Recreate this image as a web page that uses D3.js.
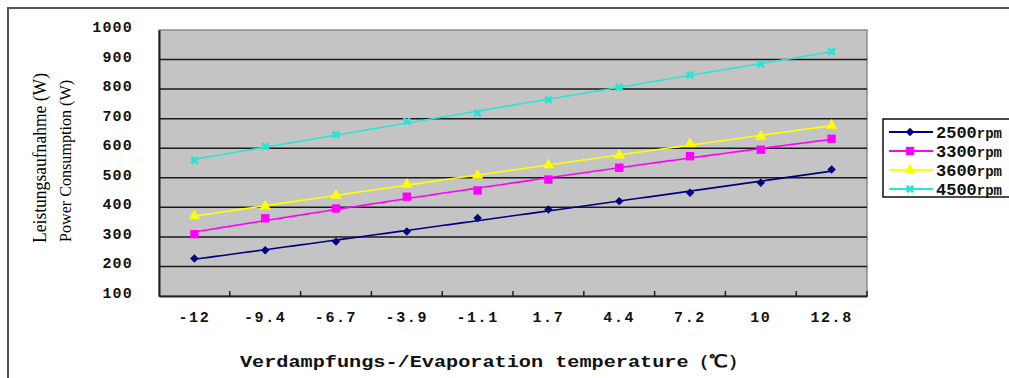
<!DOCTYPE html>
<html>
<head>
<meta charset="utf-8">
<script src="https://d3js.org/d3.v7.min.js"></script>
<style>
	html, body { margin: 0; padding: 0; background: #fff; }
	svg { display: block; }
</style>
</head>
<body>
<div id="chart"></div>
<script>
// カテゴリ（蒸発温度）
const categories = ['-12', '-9.4', '-6.7', '-3.9', '-1.1', '1.7', '4.4', '7.2', '10', '12.8'];
// Y軸の目盛り
const yTicks = [100, 200, 300, 400, 500, 600, 700, 800, 900, 1000];
// 系列名
const seriesNames = ['2500rpm', '3300rpm', '3600rpm', '4500rpm'];
// 系列の値（W）
const rpm2500 = [227, 255, 284, 318, 364, 393, 421, 449, 483, 528];
const rpm3300 = [309, 363, 396, 436, 457, 494, 534, 573, 595, 632];
const rpm3600 = [371, 404, 440, 477, 508, 543, 576, 615, 640, 677];
const rpm4500 = [559, 606, 646, 691, 719, 764, 806, 848, 885, 927];

(function() {
	const width = 1009;
	const height = 378;

	const svg = d3.select('#chart')
		.append('svg')
		.attr('width', width)
		.attr('height', height);

	// 外枠
	svg.append('path')
		.attr('d', 'M8,' + height + 'V8H' + width)
		.style('fill', 'none')
		.style('stroke', '#555')
		.style('stroke-width', 2);

	// プロット領域
	const plot = { left: 159, top: 30, right: 867, bottom: 296 };

	const x = d3.scaleBand()
		.domain(categories)
		.range([plot.left, plot.right]);

	const y = d3.scaleLinear()
		.domain([100, 1000])
		.range([plot.bottom, plot.top]);

	// 背景
	svg.append('rect')
		.attr('x', plot.left)
		.attr('y', plot.top)
		.attr('width', plot.right - plot.left)
		.attr('height', plot.bottom - plot.top)
		.style('fill', '#c4c4c4')
		.style('stroke', '#8a8a8a')
		.style('stroke-width', 1.5);

	// グリッド線
	svg.append('g')
		.selectAll('line')
		.data(yTicks.slice(1, -1))
		.enter()
		.append('line')
		.attr('x1', plot.left)
		.attr('x2', plot.right)
		.attr('y1', d => y(d))
		.attr('y2', d => y(d))
		.style('stroke', '#1a1a1a')
		.style('stroke-width', 1.5);

	// Y軸
	const yAxis = svg.append('g')
		.attr('transform', `translate(${plot.left},0)`)
		.call(d3.axisLeft(y).tickValues(yTicks).tickFormat(d3.format('d')).tickSize(0).tickPadding(26));
	yAxis.select('.domain').style('stroke', '#222').style('stroke-width', 2);
	yAxis.selectAll('text')
		.attr('dy', '0.1em')
		.style('font-family', '"Liberation Mono", monospace')
		.style('font-weight', 'bold')
		.style('font-size', '15px')
		.style('letter-spacing', '1.2px')
		.style('fill', '#111');

	// X軸（目盛りはカテゴリの境界、内向き）
	const xAxis = svg.append('g')
		.attr('transform', `translate(0,${plot.bottom})`)
		.call(d3.axisBottom(x).tickSize(0).tickPadding(15));
	xAxis.select('.domain').style('stroke', '#222').style('stroke-width', 2);
	xAxis.selectAll('text')
		.style('font-family', '"Liberation Mono", monospace')
		.style('font-weight', 'bold')
		.style('font-size', '15px')
		.style('letter-spacing', '1.6px')
		.style('fill', '#111');

	svg.append('g')
		.selectAll('line')
		.data(categories.slice(1).concat(['end']))
		.enter()
		.append('line')
		.attr('x1', (d, i) => plot.left + x.step() * (i + 1))
		.attr('x2', (d, i) => plot.left + x.step() * (i + 1))
		.attr('y1', plot.bottom)
		.attr('y2', plot.bottom - 5)
		.style('stroke', '#222')
		.style('stroke-width', 1.5);

	// 軸タイトル
	svg.append('text')
		.attr('x', 494)
		.attr('y', 367)
		.attr('text-anchor', 'middle')
		.attr('textLength', 508)
		.attr('lengthAdjust', 'spacingAndGlyphs')
		.style('font-family', '"Liberation Mono", monospace')
		.style('font-weight', 'bold')
		.style('font-size', '17px')
		.style('fill', '#111')
		.text('Verdampfungs-/Evaporation temperature（℃）');

	svg.append('text')
		.attr('transform', 'translate(46,158) rotate(-90)')
		.attr('text-anchor', 'middle')
		.attr('textLength', 170)
		.attr('lengthAdjust', 'spacingAndGlyphs')
		.style('font-family', '"Liberation Serif", serif')
		.style('font-size', '18px')
		.style('fill', '#000')
		.text('Leistungsaufnahme (W)');

	svg.append('text')
		.attr('transform', 'translate(71,161) rotate(-90)')
		.attr('text-anchor', 'middle')
		.attr('textLength', 162)
		.attr('lengthAdjust', 'spacingAndGlyphs')
		.style('font-family', '"Liberation Serif", serif')
		.style('font-size', '17px')
		.style('fill', '#000')
		.text('Power Consumption (W)');

	// 系列定義
	const series = [
		{ name: seriesNames[0], values: rpm2500, color: '#000080', symbol: d3.symbolSquare, size: 36, rotate: 45 },
		{ name: seriesNames[1], values: rpm3300, color: '#ff00ff', symbol: d3.symbolSquare, size: 70 },
		{ name: seriesNames[2], values: rpm3600, color: '#ffff00', symbol: d3.symbolTriangle, size: 55 },
		{ name: seriesNames[3], values: rpm4500, color: '#2fe3d3', symbol: d3.symbolCross, size: 45, rotate: 45 }
	];

	// 2次の近似曲線（最小二乗）
	function polyfit2(values) {
		let s = [0, 0, 0, 0, 0], t = [0, 0, 0];
		values.forEach((v, i) => {
			const xi = i + 1;
			for (let k = 0; k < 5; k++) s[k] += Math.pow(xi, k);
			for (let k = 0; k < 3; k++) t[k] += v * Math.pow(xi, k);
		});
		const m = [[s[0], s[1], s[2], t[0]], [s[1], s[2], s[3], t[1]], [s[2], s[3], s[4], t[2]]];
		for (let c = 0; c < 3; c++) {
			for (let r = c + 1; r < 3; r++) {
				const f = m[r][c] / m[c][c];
				for (let k = c; k < 4; k++) m[r][k] -= f * m[c][k];
			}
		}
		const a = [0, 0, 0];
		for (let r = 2; r >= 0; r--) {
			let sum = m[r][3];
			for (let k = r + 1; k < 3; k++) sum -= m[r][k] * a[k];
			a[r] = sum / m[r][r];
		}
		return xi => a[0] + a[1] * xi + a[2] * xi * xi;
	}

	const xPos = i => plot.left + x.step() * (i + 0.5);

	const line = d3.line()
		.x(d => d.x)
		.y(d => y(d.v));

	series.forEach(s => {
		const f = polyfit2(s.values);
		const pts = d3.range(1, 10.001, 0.1).map(xi => ({ x: xPos(xi - 1), v: f(xi) }));
		svg.append('path')
			.datum(pts)
			.attr('d', line)
			.style('fill', 'none')
			.style('stroke', s.color)
			.style('stroke-width', 1.6);

		svg.append('g')
			.selectAll('path')
			.data(s.values)
			.enter()
			.append('path')
			.attr('d', d3.symbol().type(s.symbol).size(s.size))
			.attr('transform', (d, i) => `translate(${xPos(i)},${y(d)}) rotate(${s.rotate || 0})`)
			.style('fill', s.color);
	});

	// 凡例
	const legend = svg.append('g')
		.attr('transform', 'translate(883,119)');

	legend.append('rect')
		.attr('width', 150)
		.attr('height', 78)
		.style('fill', '#fff')
		.style('stroke', '#111')
		.style('stroke-width', 1.5);

	const legendItems = legend.selectAll('.legend-item')
		.data(series)
		.enter()
		.append('g')
		.attr('class', 'legend-item')
		.attr('transform', (d, i) => `translate(0, ${13 + i * 19})`);

	legendItems.append('line')
		.attr('x1', 6)
		.attr('x2', 50)
		.style('stroke', d => d.color)
		.style('stroke-width', 2);

	legendItems.append('path')
		.attr('d', d => d3.symbol().type(d.symbol).size(d.size)())
		.attr('transform', d => `translate(27,0) rotate(${d.rotate || 0})`)
		.style('fill', d => d.color);

	const lt = legendItems.append('text')
		.attr('x', 53)
		.attr('y', 6)
		.style('font-family', '"Liberation Mono", monospace')
		.style('font-weight', 'bold')
		.style('fill', '#111');
	lt.append('tspan')
		.style('font-size', '17px')
		.text(d => d.name.replace('rpm', ''));
	lt.append('tspan')
		.style('font-size', '14px')
		.text('rpm');
}());
</script>
</body>
</html>
